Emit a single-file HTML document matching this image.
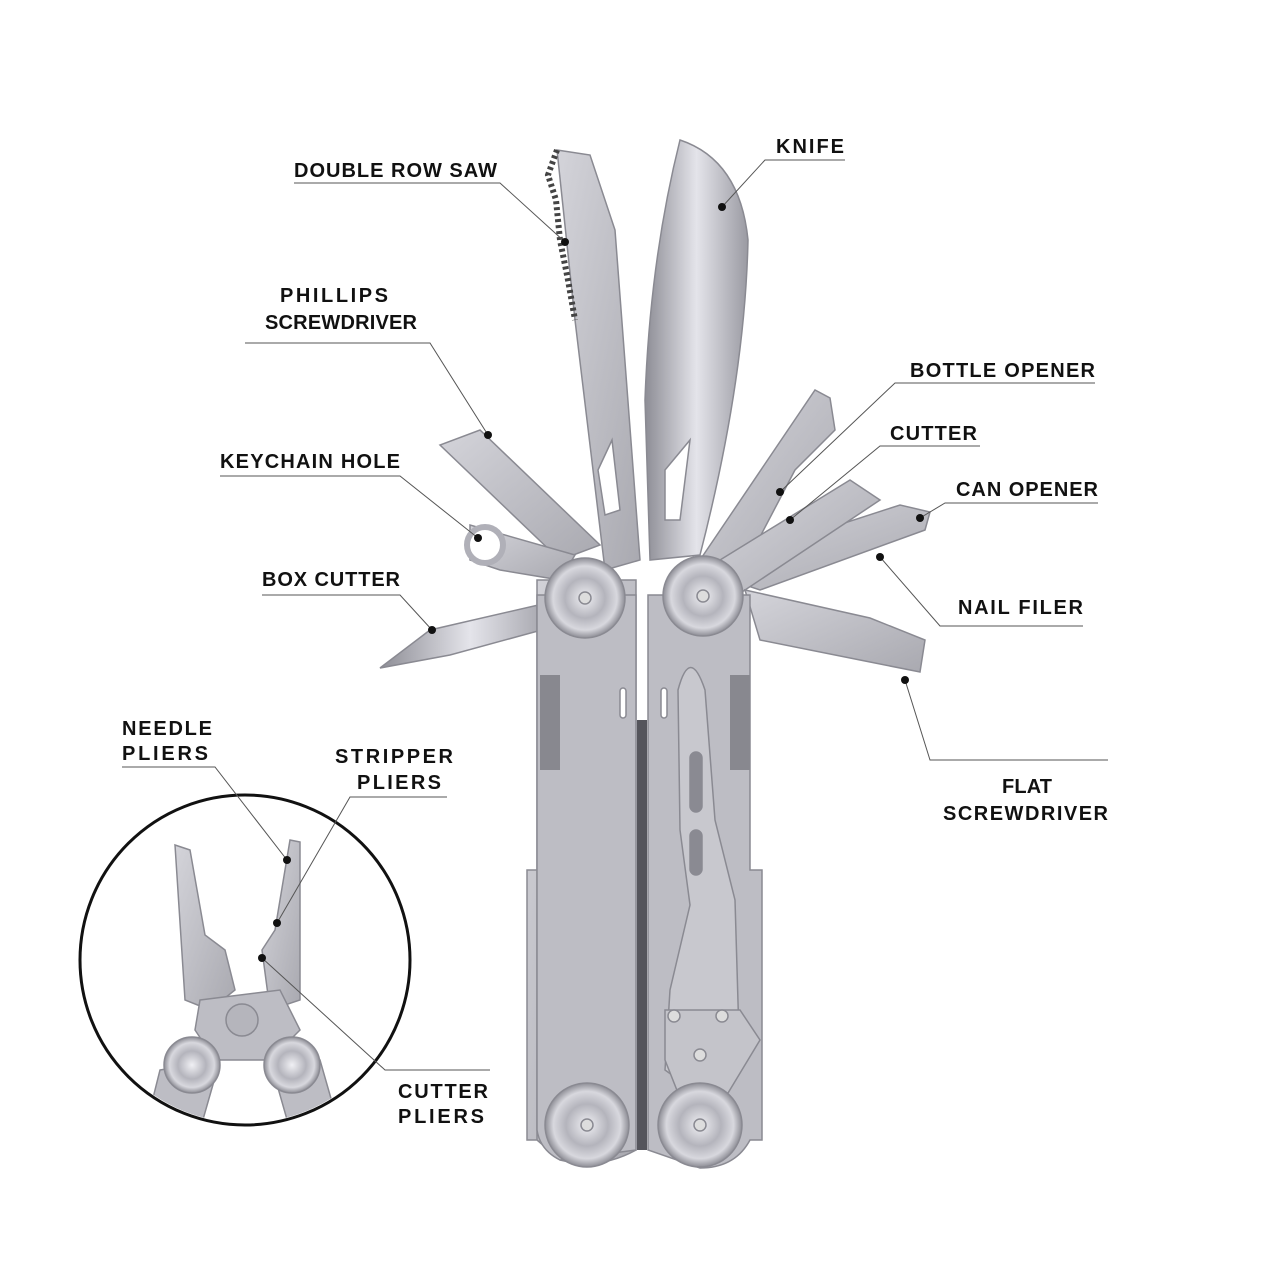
<!DOCTYPE html>
<html><head><meta charset="utf-8"><style>
html,body{margin:0;padding:0;background:#fff;}
svg{display:block}
text{font-family:"Liberation Sans",sans-serif;font-size:20px;font-weight:bold;fill:#111;}
</style></head><body>
<svg width="1280" height="1280" viewBox="0 0 1280 1280" xmlns="http://www.w3.org/2000/svg">
<defs>
<linearGradient id="m" x1="0" y1="0" x2="1" y2="1"><stop offset="0" stop-color="#d4d4da"/><stop offset="1" stop-color="#a9a9b0"/></linearGradient>
<linearGradient id="b" x1="0" y1="0" x2="1" y2="0"><stop offset="0" stop-color="#8d8d95"/><stop offset=".5" stop-color="#e4e4ea"/><stop offset="1" stop-color="#9a9aa2"/></linearGradient>
<radialGradient id="c"><stop offset="0" stop-color="#f0f0f4"/><stop offset=".5" stop-color="#b4b4bc"/><stop offset=".8" stop-color="#d8d8de"/><stop offset="1" stop-color="#8e8e96"/></radialGradient>
</defs>
<g stroke="#8a8a92" stroke-width="1.5">
<path d="M700,560 L815,390 L830,398 L835,430 L795,470 L740,575Z" fill="url(#m)"/>
<path d="M700,570 L900,505 L930,512 L925,530 L760,590Z" fill="url(#m)"/>
<path d="M720,560 L850,480 L880,500 L730,600Z" fill="url(#m)"/>
<path d="M745,590 L870,618 L925,640 L920,672 L860,660 L760,640Z" fill="url(#m)"/>
<path d="M560,560 L440,445 L480,430 L600,545Z" fill="url(#m)"/>
<path d="M575,555 L470,525 L470,560 L500,570 L560,580Z" fill="url(#m)"/>
<circle cx="485" cy="545" r="18" fill="#fff" stroke-width="6" stroke="#b0b0b8"/>
<path d="M560,600 L430,630 L380,668 L450,655 L560,625Z" fill="url(#b)"/>
<path d="M557,150 L590,155 L615,230 L640,560 L605,570 L575,320 Z" fill="url(#m)"/>
<path d="M557,150 L548,175 L556,200 L560,240 L568,280 L575,320" fill="none" stroke="#444" stroke-width="6" stroke-dasharray="3 3"/>
<path d="M680,140 Q740,160 748,240 Q745,380 700,555 L650,560 L645,400 Q650,260 680,140Z" fill="url(#b)"/>
<path d="M598,470 L612,440 L620,510 L605,515Z" fill="#fff"/>
<path d="M665,470 L690,440 L680,520 L665,520Z" fill="#fff"/>
<path d="M537,580 L636,580 L636,1150 Q600,1170 560,1160 L537,1140 L537,870 L527,870 L527,1140 L537,1140Z" fill="url(#m)"/>
<path d="M537,595 L636,595 L636,1150 L560,1160 Q540,1150 537,1130Z" fill="#bdbdc4"/>
<path d="M648,595 L750,595 L750,870 L762,870 L762,1140 L750,1140 Q735,1168 700,1168 L648,1150Z" fill="#bdbdc4"/>
<rect x="540" y="675" width="20" height="95" fill="#88888f" stroke="none"/>
<rect x="730" y="675" width="20" height="95" fill="#88888f" stroke="none"/>
<rect x="637" y="720" width="10" height="430" fill="#55555c" stroke="none"/>
<path d="M678,690 Q690,645 705,690 L715,820 L735,900 L740,1070 L700,1095 L665,1070 L670,990 L690,905 L680,830Z" fill="#c8c8ce"/>
<path d="M665,1010 L740,1010 L760,1040 L725,1098 L680,1098 L665,1060Z" fill="#c4c4ca"/>
<rect x="690" y="752" width="12" height="60" rx="6" fill="#8a8a92"/>
<rect x="690" y="830" width="12" height="45" rx="6" fill="#8a8a92"/>
<rect x="620" y="688" width="6" height="30" rx="3" fill="#fff"/>
<rect x="661" y="688" width="6" height="30" rx="3" fill="#fff"/>
<circle cx="674" cy="1016" r="6" fill="#ddd"/><circle cx="722" cy="1016" r="6" fill="#ddd"/><circle cx="700" cy="1055" r="6" fill="#ddd"/>
<circle cx="585" cy="598" r="40" fill="url(#c)"/>
<circle cx="703" cy="596" r="40" fill="url(#c)"/>
<circle cx="587" cy="1125" r="42" fill="url(#c)"/>
<circle cx="700" cy="1125" r="42" fill="url(#c)"/>
<circle cx="585" cy="598" r="6" fill="#ddd"/><circle cx="703" cy="596" r="6" fill="#ddd"/>
<circle cx="587" cy="1125" r="6" fill="#ddd"/><circle cx="700" cy="1125" r="6" fill="#ddd"/>
</g>
<circle cx="245" cy="960" r="165" fill="#fff" stroke="#111" stroke-width="3"/>
<clipPath id="cc"><circle cx="245" cy="960" r="163"/></clipPath>
<g clip-path="url(#cc)" stroke="#8a8a92" stroke-width="1.5">
<path d="M175,845 L190,850 L205,935 L225,950 L235,990 L210,1010 L185,1000 Z" fill="url(#m)"/>
<path d="M290,840 L300,842 L300,1000 L270,1010 L262,950 L275,930 Z" fill="url(#m)"/>
<path d="M200,1000 L280,990 L300,1030 L270,1060 L215,1060 L195,1030Z" fill="#bdbdc4"/>
<circle cx="242" cy="1020" r="16" fill="#b5b5bc"/>
<path d="M160,1070 L220,1060 L200,1130 L145,1130Z" fill="#bdbdc4"/>
<path d="M270,1060 L320,1060 L340,1130 L290,1130Z" fill="#bdbdc4"/>
<circle cx="192" cy="1065" r="28" fill="url(#c)"/>
<circle cx="292" cy="1065" r="28" fill="url(#c)"/>
</g>
<g stroke="#555" stroke-width="1" fill="none">
<polyline points="294,183 500,183 565,242"/>
<polyline points="845,160 765,160 722,207"/>
<polyline points="245,343 430,343 488,435"/>
<polyline points="1095,383 895,383 780,492"/>
<polyline points="980,446 880,446 790,520"/>
<polyline points="220,476 400,476 478,538"/>
<polyline points="1098,503 945,503 920,518"/>
<polyline points="262,595 400,595 432,630"/>
<polyline points="1083,626 940,626 880,557"/>
<polyline points="1108,760 930,760 905,680"/>
<polyline points="122,767 215,767 287,860"/>
<polyline points="447,797 350,797 277,923"/>
<polyline points="490,1070 385,1070 262,958"/>
</g>
<g fill="#111">
<circle cx="565" cy="242" r="4"/><circle cx="722" cy="207" r="4"/><circle cx="488" cy="435" r="4"/>
<circle cx="780" cy="492" r="4"/><circle cx="790" cy="520" r="4"/><circle cx="478" cy="538" r="4"/>
<circle cx="920" cy="518" r="4"/><circle cx="432" cy="630" r="4"/><circle cx="880" cy="557" r="4"/>
<circle cx="905" cy="680" r="4"/><circle cx="287" cy="860" r="4"/><circle cx="277" cy="923" r="4"/><circle cx="262" cy="958" r="4"/>
</g>
<text x="294" y="177" textLength="203">DOUBLE ROW SAW</text>
<text x="776" y="153" textLength="68">KNIFE</text>
<text x="280" y="302" textLength="108">PHILLIPS</text>
<text x="265" y="329" textLength="152">SCREWDRIVER</text>
<text x="910" y="377" textLength="185">BOTTLE OPENER</text>
<text x="890" y="440" textLength="87">CUTTER</text>
<text x="220" y="468" textLength="180">KEYCHAIN HOLE</text>
<text x="956" y="496" textLength="142">CAN OPENER</text>
<text x="262" y="586" textLength="138">BOX CUTTER</text>
<text x="958" y="614" textLength="125">NAIL FILER</text>
<text x="1002" y="793" textLength="50">FLAT</text>
<text x="943" y="820" textLength="165">SCREWDRIVER</text>
<text x="122" y="735" textLength="90">NEEDLE</text>
<text x="122" y="760" textLength="86">PLIERS</text>
<text x="335" y="763" textLength="118">STRIPPER</text>
<text x="357" y="789" textLength="84">PLIERS</text>
<text x="398" y="1098" textLength="90">CUTTER</text>
<text x="398" y="1123" textLength="86">PLIERS</text>
</svg>
</body></html>
